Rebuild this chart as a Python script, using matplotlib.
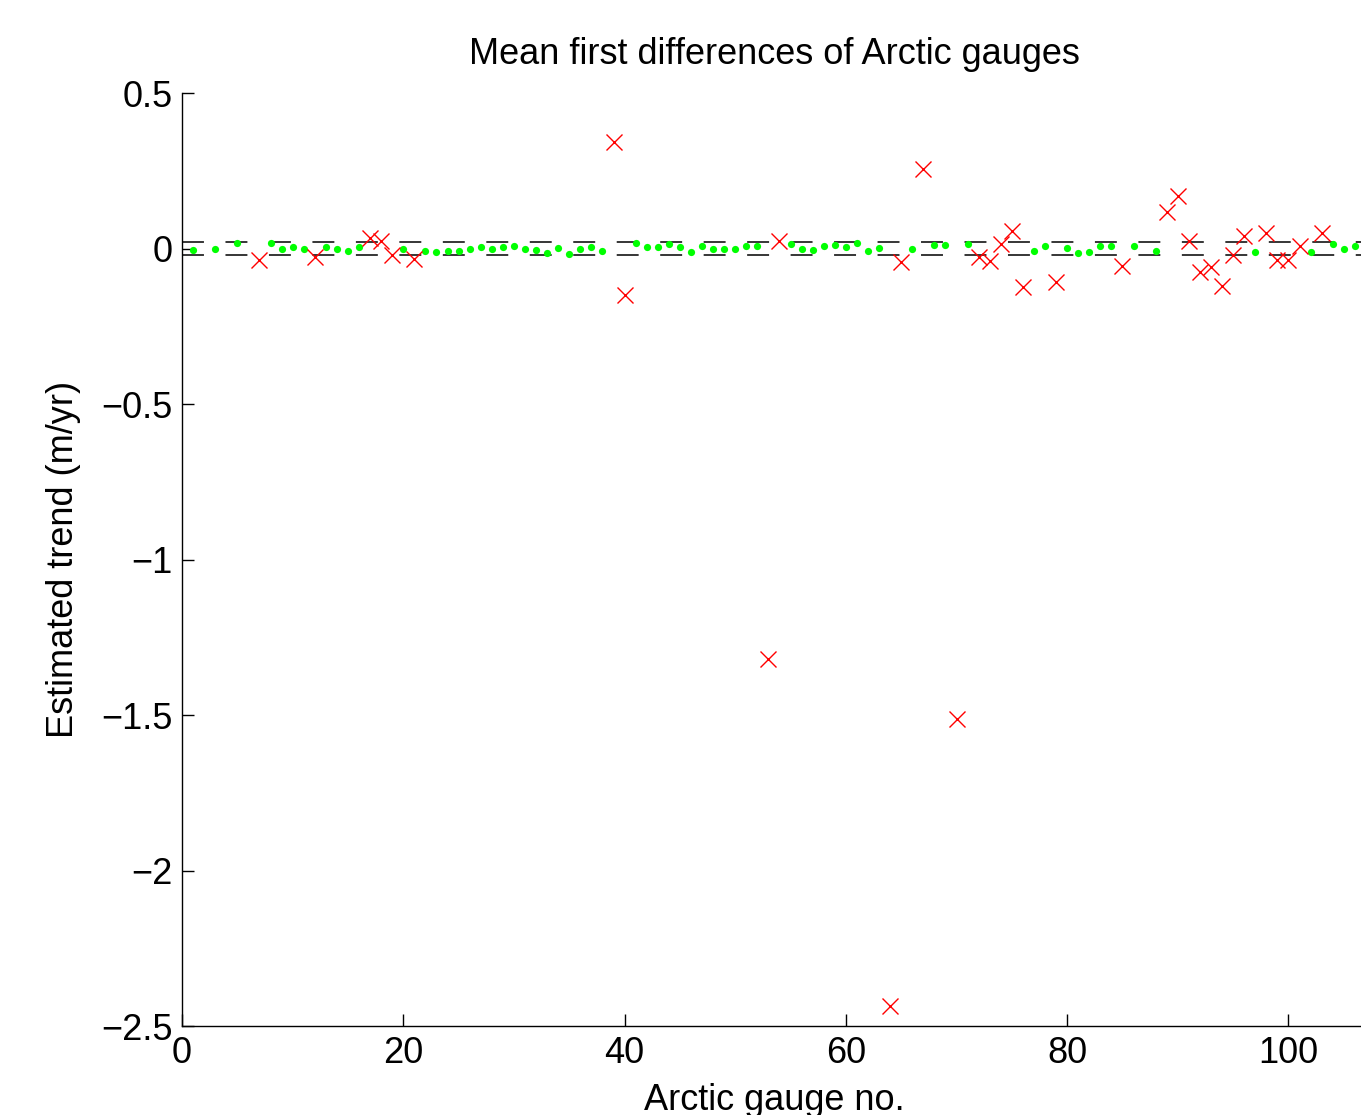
import numpy as np
import matplotlib
matplotlib.use('Agg')
import matplotlib.pyplot as plt

plt.rcParams['font.family'] = ['Liberation Sans', 'DejaVu Sans']
plt.rcParams['lines.scale_dashes'] = False

# gauges inside the band (green dots)
green_idx = [1, 3, 5, 8, 9, 10, 11, 13, 14, 15, 16, 20, 22, 23, 24, 25, 26, 27, 28,
             29, 30, 31, 32, 33, 34, 35, 36, 37, 38, 41, 42, 43, 44, 45, 46, 47, 48,
             49, 50, 51, 52, 55, 56, 57, 58, 59, 60, 61, 62, 63, 66, 68, 69, 71, 77,
             78, 80, 81, 82, 83, 84, 86, 88, 97, 102, 104, 105, 106]
green_val = [-0.005, -0.003, 0.019, 0.019, -0.003, 0.004, 0.000, 0.006, -0.003, -0.007,
             0.004, -0.003, -0.007, -0.012, -0.007, -0.007, -0.003, 0.004, -0.003, 0.004,
             0.009, -0.002, -0.005, -0.015, 0.003, -0.018, -0.003, 0.004, -0.007, 0.017,
             0.006, 0.004, 0.013, 0.006, -0.010, 0.008, -0.003, 0.000, -0.003, 0.008,
             0.009, 0.014, 0.000, -0.005, 0.008, 0.011, 0.006, 0.019, -0.008, 0.003,
             0.000, 0.011, 0.011, 0.014, -0.008, 0.009, 0.003, -0.015, -0.010, 0.007,
             0.007, 0.009, -0.007, -0.010, -0.010, 0.013, 0.000, 0.008]

# flagged gauges (red crosses)
red_idx = [7, 12, 17, 18, 19, 21, 39, 40, 53, 54, 64, 65, 67, 70, 72, 73, 74, 75, 76,
           79, 85, 89, 90, 91, 92, 93, 94, 95, 96, 98, 99, 100, 101, 103]
red_val = [-0.037, -0.026, 0.033, 0.024, -0.021, -0.035, 0.342, -0.150, -1.320, 0.025,
           -2.436, -0.042, 0.255, -1.513, -0.026, -0.040, 0.016, 0.055, -0.123, -0.107,
           -0.056, 0.118, 0.169, 0.023, -0.075, -0.058, -0.121, -0.021, 0.041, 0.049,
           -0.038, -0.037, 0.008, 0.049]

band = 0.02
xmax = 107.1

fig = plt.figure(figsize=(13.61, 11.15), dpi=100)
ax = fig.add_axes([182 / 1361, (1115 - 1026) / 1115, (1367 - 182) / 1361, (1026 - 93) / 1115])

ax.plot([0, xmax], [band, band], color='black', lw=1.1, linestyle=(0, (15.8, 15.5)))
ax.plot([0, xmax], [-band, -band], color='black', lw=1.1, linestyle=(0, (15.8, 15.5)))
ax.plot(green_idx, green_val, 'o', color=(0, 1, 0), markersize=5.2, markeredgewidth=0)
ax.plot(red_idx, red_val, 'x', color=(1, 0, 0), markersize=11, markeredgewidth=1.0)

ax.set_xlim(0, xmax)
ax.set_ylim(-2.5, 0.5)
ax.set_xticks([0, 20, 40, 60, 80, 100])
ax.set_yticks([-2.5, -2, -1.5, -1, -0.5, 0, 0.5])
ax.set_yticklabels(['\u22122.5', '\u22122', '\u22121.5', '\u22121', '\u22120.5', '0', '0.5'])

ax.spines['top'].set_visible(False)
ax.spines['right'].set_visible(False)
for s in ['left', 'bottom']:
    ax.spines[s].set_linewidth(1.0)
ax.tick_params(direction='in', length=8.5, width=1.0, labelsize=26, pad=7)

ax.set_title('Mean first differences of Arctic gauges', fontsize=26, pad=21)
ax.set_xlabel('Arctic gauge no.', fontsize=26, labelpad=9)
ax.set_ylabel('Estimated trend (m/yr)', fontsize=26, labelpad=14)

fig.savefig('out.png', dpi=100)
